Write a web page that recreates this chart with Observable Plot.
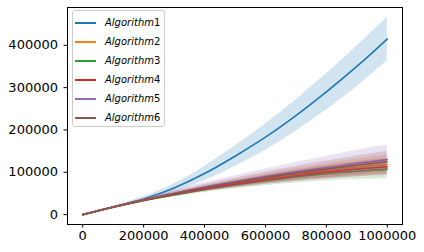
<!DOCTYPE html>
<html>
<head>
<meta charset="utf-8">
<script src="https://cdn.jsdelivr.net/npm/d3@7"></script>
<script src="https://cdn.jsdelivr.net/npm/@observablehq/plot@0.6"></script>
<style>
  html, body { margin: 0; padding: 0; background: #fff; }
  #wrap { position: relative; width: 424px; height: 252px; font-family: "DejaVu Sans", sans-serif; }
  #legend { position: absolute; left: 72px; top: 10px; width: 93px; height: 117px; box-sizing: border-box;
    border: 1px solid #cccccc; border-radius: 3px; background: rgba(255,255,255,0.8); }
  .entry { position: absolute; left: 0; height: 14px; width: 100%; }
  .entry .sw { position: absolute; left: 2px; top: 6px; width: 21px; height: 2px; }
  .entry .lb { position: absolute; left: 32px; top: 0; font-size: 10px; line-height: 14px; color: #000; white-space: nowrap; }
  .entry .lb i { font-style: italic; }
</style>
</head>
<body>
<div id="wrap"></div>
<script>
// ---- data ----
const xValues = [0, 100000, 200000, 300000, 400000, 500000, 600000, 700000, 800000, 900000, 1000000];
const seriesNames = ["Algorithm1", "Algorithm2", "Algorithm3", "Algorithm4", "Algorithm5", "Algorithm6"];
const seriesColors = ["#1f77b4", "#ff7f0e", "#2ca02c", "#d62728", "#9467bd", "#8c564b"];

const alg1 = [0, 18000, 37000, 63000, 97000, 138000, 183000, 234000, 290000, 350000, 415000];
const alg2 = [0, 17800, 34000, 48500, 62000, 74000, 85000, 95000, 104000, 112000, 118600];
const alg3 = [0, 17500, 33000, 46500, 59000, 70000, 80000, 89000, 96500, 102500, 107600];
const alg4 = [0, 17600, 33500, 47500, 60500, 72000, 82500, 92000, 100500, 107500, 113200];
const alg5 = [0, 18000, 35000, 50500, 65000, 78000, 90000, 101000, 111000, 121000, 130000];
const alg6 = [0, 17900, 34500, 49500, 63500, 76000, 87500, 98000, 107500, 116500, 124900];

// half-width of the shaded band around each series
const spread1 = [0, 2000, 5000, 10000, 17000, 24000, 31000, 37000, 43000, 48000, 51000];
const spread2 = [0, 1000, 2500, 4500, 6500, 9000, 11500, 14000, 16500, 19500, 22000];
const spread3 = [0, 1000, 2500, 4500, 6500, 9000, 11500, 14000, 16500, 19500, 22000];
const spread4 = [0, 900, 2300, 4000, 6000, 8200, 10500, 13000, 15500, 18000, 20000];
const spread5 = [0, 1500, 4000, 7000, 10500, 14000, 18000, 22000, 26500, 31000, 35000];
const spread6 = [0, 1000, 3000, 5000, 7500, 10000, 13000, 16000, 19000, 22000, 25000];

const xTicks = [0, 200000, 400000, 600000, 800000, 1000000];
const yTicks = [0, 100000, 200000, 300000, 400000];

// ---- build tables ----
const values = [alg1, alg2, alg3, alg4, alg5, alg6];
const spreads = [spread1, spread2, spread3, spread4, spread5, spread6];
const tables = values.map((vals, i) => xValues.map((x, j) => ({
  x, y: vals[j], lo: vals[j] - spreads[i][j], hi: vals[j] + spreads[i][j], name: seriesNames[i]
})));

const all = tables.flat();
const yMin = d3.min(all, d => d.lo), yMax = d3.max(all, d => d.hi);
const yPad = (yMax - yMin) * 0.05;
const xMin = d3.min(xValues), xMax = d3.max(xValues);
const xPad = (xMax - xMin) * 0.05;

const marks = [];
tables.forEach((t, i) => {
  marks.push(Plot.areaY(t, {x: "x", y1: "lo", y2: "hi", fill: seriesColors[i], fillOpacity: 0.2, curve: "monotone-x"}));
  marks.push(Plot.lineY(t, {x: "x", y: "y", stroke: seriesColors[i], strokeWidth: 1.6, curve: "monotone-x"}));
});
marks.push(Plot.axisX({ticks: xTicks, tickFormat: d => String(d), tickSize: 3.5, tickPadding: 3, fontSize: 13}));
marks.push(Plot.axisY({ticks: yTicks, tickFormat: d => String(d), tickSize: 3.5, tickPadding: 6, fontSize: 13}));
marks.push(Plot.frame({stroke: "#000", strokeWidth: 1}));

const chart = Plot.plot({
  width: 424,
  height: 252,
  marginLeft: 67,
  marginRight: 22,
  marginTop: 7,
  marginBottom: 28,
  x: {domain: [xMin - xPad, xMax + xPad], label: null},
  y: {domain: [yMin - yPad, yMax + yPad], label: null},
  style: {fontFamily: "DejaVu Sans, sans-serif", fontSize: "13px", color: "#000", background: "#fff", overflow: "visible"},
  marks
});

const wrap = document.getElementById("wrap");
wrap.appendChild(chart);

// legend
const legend = document.createElement("div");
legend.id = "legend";
seriesNames.forEach((n, i) => {
  const e = document.createElement("div");
  e.className = "entry";
  e.style.top = (5 + i * 19) + "px";
  const sw = document.createElement("div");
  sw.className = "sw";
  sw.style.background = seriesColors[i];
  const lb = document.createElement("div");
  lb.className = "lb";
  const m = n.match(/^(\D+)(\d+)$/);
  lb.innerHTML = "<i>" + m[1] + "</i>" + m[2];
  e.appendChild(sw); e.appendChild(lb);
  legend.appendChild(e);
});
wrap.appendChild(legend);
</script>
</body>
</html>
